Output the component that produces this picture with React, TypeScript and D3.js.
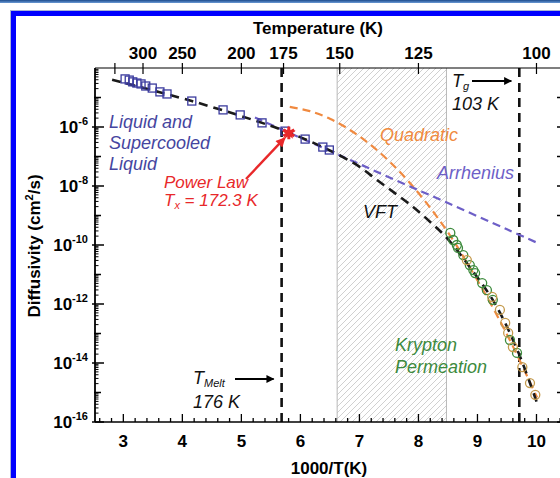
import React, { useEffect, useRef } from 'react';
import * as d3 from 'd3';

const W = 560;
const H = 478;
const FONT = '"Liberation Sans", Arial, Helvetica, sans-serif';

// liquid and supercooled liquid diffusivity (x = 1000/T, log10 D)
const liquidX = [3.03, 3.1, 3.16, 3.23, 3.3, 3.38, 3.49, 3.62, 3.74, 4.16, 4.69, 4.98, 5.35, 5.74, 6.08, 6.38, 6.49];
const liquidLogD = [-4.37, -4.41, -4.47, -4.51, -4.54, -4.61, -4.68, -4.81, -4.88, -5.12, -5.42, -5.59, -5.86, -6.14, -6.41, -6.68, -6.78];

// krypton permeation, two overlaid sets
const kryptonGreenX = [8.54, 8.59, 8.65, 8.67, 8.76, 8.87, 8.93, 8.96, 9.08, 9.16, 9.26, 9.55, 9.67];
const kryptonGreenLogD = [-9.59, -9.83, -10.0, -10.1, -10.34, -10.68, -10.85, -10.95, -11.29, -11.53, -11.86, -13.22, -13.66];
const kryptonTanX = [8.82, 9.25, 9.38, 9.47, 9.52, 9.6, 9.76, 9.89, 9.98];
const kryptonTanLogD = [-10.51, -11.76, -12.2, -12.64, -12.98, -13.46, -14.14, -14.68, -15.08];

// fits
const vftX = [2.81, 4.16, 5.35, 5.82, 6.38, 6.72, 7.01, 7.3, 7.6, 7.91, 8.2, 8.48, 8.87, 9.3, 9.69, 10.01];
const vftLogD = [-4.4, -5.12, -5.86, -6.2, -6.68, -7.02, -7.36, -7.8, -8.24, -8.71, -9.22, -9.76, -10.75, -12.0, -13.63, -15.36];
const quadX = [5.82, 6.16, 6.5, 6.84, 7.18, 7.52, 7.86, 8.2, 8.54, 8.87, 9.21, 9.55, 10.01];
const quadLogD = [-5.32, -5.46, -5.72, -6.1, -6.59, -7.19, -7.91, -8.74, -9.69, -10.76, -11.94, -13.23, -15.17];
const arrX = [5.23, 6.5, 7.5, 8.5, 9.5, 10.05];
const arrLogD = [-5.68, -6.81, -7.7, -8.58, -9.47, -9.96];

// power law crossover
const starX = 5.804;
const starLogD = -6.2;

// reference temperatures (K)
const tMelt = 176;
const tGlass = 103;
const hatchT = [151, 118];

// axis ticks
const bottomTicks = [3, 4, 5, 6, 7, 8, 9, 10];
const topTicks = [350, 300, 250, 200, 175, 150, 125, 100];
const topLabels = ['', '300', '250', '200', '175', '150', '125', '100'];
const yLabelExp = [-6, -8, -10, -12, -14, -16];

export default function App() {
  const ref = useRef<SVGSVGElement>(null);

  useEffect(() => {
    const svg = d3.select(ref.current);
    svg.selectAll('*').remove();

    const left = 95, right = 566, top = 68, bottom = 422;
    const x = d3.scaleLinear().domain([2.52, 10.5]).range([left, right]);
    const y = d3.scaleLog().domain([1e-16, 1e-4]).range([bottom, top]);
    const yl = (v: number) => y(Math.pow(10, v));

    const defs = svg.append('defs');
    const grad = defs.append('linearGradient').attr('id', 'band').attr('x1', 0).attr('y1', 0).attr('x2', 0).attr('y2', 1);
    grad.append('stop').attr('offset', 0).attr('stop-color', '#1d4c8c');
    grad.append('stop').attr('offset', 1).attr('stop-color', '#6a9ad6');
    const pat = defs.append('pattern').attr('id', 'hatch').attr('patternUnits', 'userSpaceOnUse').attr('width', 6).attr('height', 6);
    pat.append('path').attr('d', 'M0,6 L6,0 M-1,1 L1,-1 M5,7 L7,5').attr('stroke', '#c4c4c4').attr('stroke-width', 0.8);
    defs.append('clipPath').attr('id', 'plot').append('rect').attr('x', left).attr('y', top).attr('width', right - left).attr('height', bottom - top);
    const mk = (id: string, color: string) =>
      defs.append('marker').attr('id', id).attr('viewBox', '0 0 10 10').attr('refX', 9).attr('refY', 5)
        .attr('markerWidth', 5).attr('markerHeight', 4).attr('markerUnits', 'strokeWidth').attr('orient', 'auto')
        .append('path').attr('d', 'M0,0 L10,5 L0,10 Z').attr('fill', color);
    mk('arrowK', '#000');
    mk('arrowR', '#e8282a');

    svg.append('rect').attr('width', W).attr('height', H).attr('fill', '#fff');

    // page frame
    svg.append('rect').attr('x', 0).attr('y', 0).attr('width', W).attr('height', 3).attr('fill', 'url(#band)');
    svg.append('rect').attr('x', 10.5).attr('y', 10.5).attr('width', 700).attr('height', 700).attr('fill', 'none').attr('stroke', '#a9b4d6').attr('stroke-width', 1);
    svg.append('rect').attr('x', 13.5).attr('y', 13.5).attr('width', 700).attr('height', 700).attr('fill', 'none').attr('stroke', '#0000ff').attr('stroke-width', 5);

    const g = svg.append('g');
    const plot = g.append('g').attr('clip-path', 'url(#plot)');

    // hatched region
    const hx0 = x(1000 / hatchT[0]);
    const hx1 = x(1000 / hatchT[1]);
    plot.append('rect').attr('x', hx0).attr('y', top).attr('width', hx1 - hx0).attr('height', bottom - top).attr('fill', 'url(#hatch)');
    [hx0, hx1].forEach((v) => {
      plot.append('line').attr('x1', v).attr('x2', v).attr('y1', top).attr('y2', bottom).attr('stroke', '#b8b8b8').attr('stroke-width', 1);
    });

    // melt and glass transition lines
    [tMelt, tGlass].forEach((t) => {
      plot.append('line').attr('x1', x(1000 / t)).attr('x2', x(1000 / t)).attr('y1', top).attr('y2', bottom)
        .attr('stroke', '#111').attr('stroke-width', 2.6).attr('stroke-dasharray', '9,6');
    });

    const line = (xs: number[], ys: number[], color: string, w: number, dash: string) => {
      const pts = xs.map((v, i) => [x(v), yl(ys[i])] as [number, number]);
      plot.append('path').attr('d', d3.line().curve(d3.curveCatmullRom)(pts))
        .attr('fill', 'none').attr('stroke', color).attr('stroke-width', w).attr('stroke-dasharray', dash);
    };
    line(quadX, quadLogD, '#f08a40', 2.2, '8,5');
    line(arrX, arrLogD, '#6d5fc7', 2.2, '8,5');
    line(vftX, vftLogD, '#1a1a1a', 2.6, '9,6');

    // data markers
    plot.selectAll('rect.liq').data(liquidX).enter().append('rect').attr('class', 'liq')
      .attr('x', (d) => x(d) - 4).attr('y', (d, i) => yl(liquidLogD[i]) - 4).attr('width', 8).attr('height', 8)
      .attr('fill', 'none').attr('stroke', '#3b3b9e').attr('stroke-width', 1.3);
    plot.selectAll('circle.kg').data(kryptonGreenX).enter().append('circle').attr('class', 'kg')
      .attr('cx', (d) => x(d)).attr('cy', (d, i) => yl(kryptonGreenLogD[i])).attr('r', 4.5)
      .attr('fill', 'none').attr('stroke', '#3d8b3d').attr('stroke-width', 1.3);
    plot.selectAll('circle.kt').data(kryptonTanX).enter().append('circle').attr('class', 'kt')
      .attr('cx', (d) => x(d)).attr('cy', (d, i) => yl(kryptonTanLogD[i])).attr('r', 4.5)
      .attr('fill', 'none').attr('stroke', '#c49a4c').attr('stroke-width', 1.3);

    plot.append('path').attr('d', d3.symbol(d3.symbolAsterisk, 110)())
      .attr('transform', `translate(${x(starX)},${yl(starLogD)})`)
      .attr('stroke', '#e8282a').attr('stroke-width', 3).attr('fill', 'none');
    plot.append('path').attr('d', d3.symbol(d3.symbolStar, 60)())
      .attr('transform', `translate(${x(starX)},${yl(starLogD)})`).attr('fill', '#e8282a');

    // annotations
    const txt = (px: number, py: number, s: string, color: string, size = 18) =>
      g.append('text').attr('x', px).attr('y', py).attr('fill', color).attr('font-family', FONT)
        .attr('font-size', size).attr('font-style', 'italic').text(s);
    txt(109, 128, 'Liquid and', '#4545a0');
    txt(109, 149, 'Supercooled', '#4545a0');
    txt(109, 170, 'Liquid', '#4545a0');
    txt(164, 188, 'Power Law', '#e8282a', 17);
    const tx = txt(164, 206, 'T', '#e8282a', 17);
    tx.append('tspan').attr('font-size', 11).attr('dy', 3).text('x');
    tx.append('tspan').attr('dy', -3).text(' = 172.3 K');
    txt(380, 141, 'Quadratic', '#f08a40');
    txt(437, 179, 'Arrhenius', '#6d5fc7');
    txt(363, 218, 'VFT', '#111');
    txt(395, 351, 'Krypton', '#3d8a3d');
    txt(395, 373, 'Permeation', '#3d8a3d');
    const tm = txt(193, 384, 'T', '#111');
    tm.append('tspan').attr('font-size', 11).attr('dy', 3).text('Melt');
    txt(193, 408, '176 K', '#111');
    const tg = txt(452, 87, 'T', '#111');
    tg.append('tspan').attr('font-size', 11).attr('dy', 3).text('g');
    txt(452, 110, '103 K', '#111');

    g.append('line').attr('x1', 235).attr('y1', 379).attr('x2', x(1000 / tMelt) - 8).attr('y2', 379)
      .attr('stroke', '#000').attr('stroke-width', 2).attr('marker-end', 'url(#arrowK)');
    g.append('line').attr('x1', 472).attr('y1', 81).attr('x2', x(1000 / tGlass) - 8).attr('y2', 81)
      .attr('stroke', '#000').attr('stroke-width', 2).attr('marker-end', 'url(#arrowK)');
    g.append('line').attr('x1', 246).attr('y1', 179).attr('x2', x(starX) - 4).attr('y2', yl(starLogD) + 5)
      .attr('stroke', '#e8282a').attr('stroke-width', 2.4).attr('marker-end', 'url(#arrowR)');

    // axes
    const ax = g.append('g').attr('stroke', '#000');
    ax.append('line').attr('x1', left).attr('x2', right).attr('y1', bottom).attr('y2', bottom).attr('stroke-width', 1.6);
    ax.append('line').attr('x1', left).attr('x2', right).attr('y1', top).attr('y2', top).attr('stroke-width', 1.2);
    ax.append('line').attr('x1', left).attr('x2', left).attr('y1', top).attr('y2', bottom).attr('stroke-width', 1.8);
    ax.append('line').attr('x1', right).attr('x2', right).attr('y1', top).attr('y2', bottom).attr('stroke-width', 1.6);

    d3.range(2.6, 10.5, 0.2).forEach((v) => {
      const major = Math.abs(v - Math.round(v)) < 0.01;
      ax.append('line').attr('x1', x(v)).attr('x2', x(v)).attr('y1', bottom).attr('y2', bottom - (major ? 8 : 4)).attr('stroke-width', 1.3);
    });
    g.selectAll('text.bt').data(bottomTicks).enter().append('text').attr('class', 'bt')
      .attr('x', (d) => x(d)).attr('y', 447).attr('text-anchor', 'middle')
      .attr('font-family', FONT).attr('font-weight', 'bold').attr('font-size', 17).text((d) => d);

    topTicks.forEach((t) => {
      ax.append('line').attr('x1', x(1000 / t)).attr('x2', x(1000 / t)).attr('y1', top - 5).attr('y2', top + 6).attr('stroke-width', 1.2);
    });
    g.selectAll('text.tt').data(topTicks).enter().append('text').attr('class', 'tt')
      .attr('x', (d) => x(1000 / d)).attr('y', 59).attr('text-anchor', 'middle')
      .attr('font-family', FONT).attr('font-weight', 'bold').attr('font-size', 17).text((d, i) => topLabels[i]);

    for (let e = -16; e < -4; e++) {
      const major = e % 2 === 0;
      ax.append('line').attr('x1', left - (major ? 3 : 1)).attr('x2', left + (major ? 9 : 6)).attr('y1', yl(e)).attr('y2', yl(e)).attr('stroke-width', 1.5);
      ax.append('line').attr('x1', right).attr('x2', right - 9).attr('y1', yl(e)).attr('y2', yl(e)).attr('stroke-width', 1.5);
      for (let m = 2; m < 10; m++) {
        const py = y(m * Math.pow(10, e));
        ax.append('line').attr('x1', left).attr('x2', left + 3.5).attr('y1', py).attr('y2', py).attr('stroke-width', 1);
      }
    }
    yLabelExp.forEach((e) => {
      const t = g.append('text').attr('x', 88).attr('y', yl(e) + 6).attr('text-anchor', 'end')
        .attr('font-family', FONT).attr('font-weight', 'bold').attr('font-size', 17).text('10');
      t.append('tspan').attr('font-size', 11).attr('dy', -8).text(String(e));
    });

    // titles
    g.append('text').attr('x', 318).attr('y', 34).attr('text-anchor', 'middle').attr('font-family', FONT)
      .attr('font-weight', 'bold').attr('font-size', 17).text('Temperature (K)');
    g.append('text').attr('x', 329).attr('y', 474).attr('text-anchor', 'middle').attr('font-family', FONT)
      .attr('font-weight', 'bold').attr('font-size', 17).text('1000/T(K)');
    const yt = g.append('text').attr('transform', 'translate(40,246) rotate(-90)').attr('text-anchor', 'middle')
      .attr('font-family', FONT).attr('font-weight', 'bold').attr('font-size', 17).text('Diffusivity (cm');
    yt.append('tspan').attr('font-size', 11).attr('dy', -7).text('2');
    yt.append('tspan').attr('dy', 7).text('/s)');
  }, []);

  return <svg ref={ref} width={W} height={H} style={{ position: 'absolute', left: 0, top: 0, display: 'block' }} />;
}
